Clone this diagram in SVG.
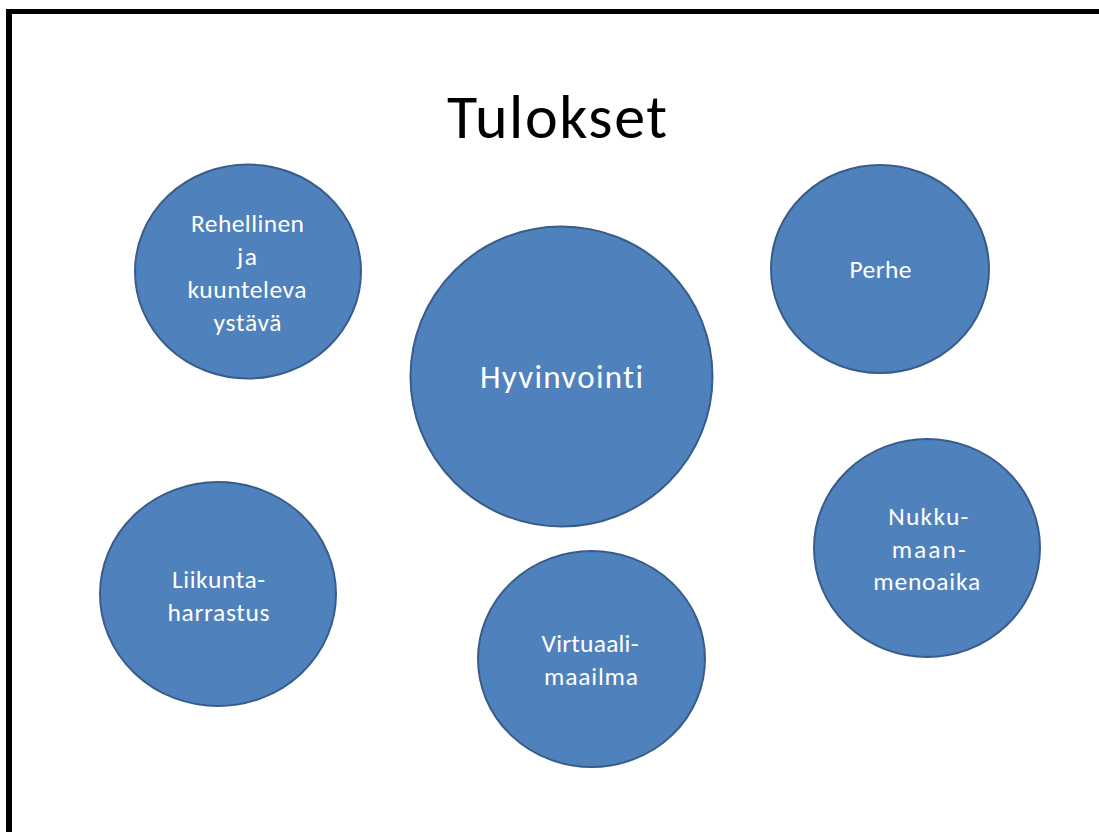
<svg xmlns="http://www.w3.org/2000/svg" width="1099" height="832" viewBox="0 0 1099 832">
  <style>
    .node ellipse { fill: #4f81bd; stroke: #385d8a; stroke-width: 2; }
    .node text { fill: #ffffff; font-family: Carlito, Calibri, Lato, "Liberation Sans", sans-serif; font-size: 25.5px; text-anchor: middle; font-variant-ligatures: none; }
    .title { fill: #000000; font-family: Carlito, Calibri, Lato, "Liberation Sans", sans-serif; font-size: 62px; text-anchor: middle; font-variant-ligatures: none; }
  </style>
  <rect x="0" y="0" width="1099" height="832" fill="#ffffff"/>
  <g id="frame" fill="#000000">
    <rect x="6" y="9" width="1093" height="5"/>
    <rect x="6" y="9" width="6" height="823"/>
  </g>
  <text class="title" x="557" y="138" textLength="220">Tulokset</text>
  <g id="connectors"></g>
  <g id="node-hyvinvointi" class="node">
    <ellipse cx="561.5" cy="376.5" rx="151" ry="150"/>
    <text x="561.5" y="388" style="font-size:33px" textLength="163">Hyvinvointi</text>
  </g>
  <g id="node-rehellinen" class="node">
    <ellipse cx="248" cy="271.5" rx="113" ry="107"/>
    <text x="247.5" y="232" textLength="113">Rehellinen</text>
    <text x="247" y="265" textLength="20">ja</text>
    <text x="247" y="298" textLength="119">kuunteleva</text>
    <text x="247.5" y="331" textLength="68">ystävä</text>
  </g>
  <g id="node-perhe" class="node">
    <ellipse cx="880" cy="269" rx="109" ry="104"/>
    <text x="880.5" y="278" textLength="62">Perhe</text>
  </g>
  <g id="node-liikunta" class="node">
    <ellipse cx="218" cy="594" rx="118" ry="112"/>
    <text x="218.5" y="588" textLength="93">Liikunta-</text>
    <text x="218.5" y="621" textLength="102">harrastus</text>
  </g>
  <g id="node-virtuaali" class="node">
    <ellipse cx="591.5" cy="659" rx="113.5" ry="108"/>
    <text x="590" y="652" textLength="97">Virtuaali-</text>
    <text x="591" y="685" textLength="94">maailma</text>
  </g>
  <g id="node-nukku" class="node">
    <ellipse cx="927" cy="548" rx="113" ry="109"/>
    <text x="928.3" y="525" textLength="80">Nukku-</text>
    <text x="928.7" y="558" textLength="74">maan-</text>
    <text x="926.7" y="590" textLength="107">menoaika</text>
  </g>
</svg>
